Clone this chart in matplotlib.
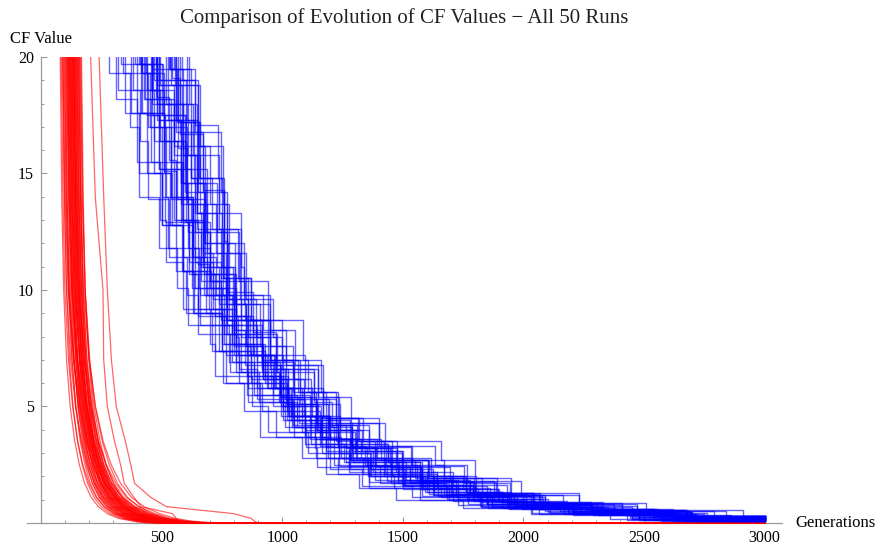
import matplotlib
matplotlib.use("Agg")
import matplotlib.pyplot as plt

TITLE = "Comparison of Evolution of CF Values \u2212 All 50 Runs"
X_LABEL = "Generations"
Y_LABEL = "CF Value"
X_MAJOR = [500, 1000, 1500, 2000, 2500, 3000]
Y_MAJOR = [5, 10, 15, 20]

# red runs: generation at which each CF level was reached
RED_LEVELS = [20, 14, 10, 7, 5, 3.5, 2.5, 1.7, 1.1, 0.7, 0.4, 0.2, 0.08, 0.02, 0, 0]
RED_GENS = [
    [80, 86, 94, 106, 121, 140, 159, 181, 208, 238, 275, 320, 380, 420, 500, 3000],
    [84, 91, 99, 114, 131, 152, 173, 199, 229, 263, 305, 356, 414, 464, 554, 3000],
    [88, 96, 106, 123, 143, 168, 193, 223, 258, 298, 348, 408, 478, 538, 638, 3000],
    [92, 98, 106, 118, 133, 152, 171, 193, 220, 250, 287, 332, 392, 432, 512, 3000],
    [95, 104, 116, 135, 158, 187, 216, 250, 291, 337, 394, 455, 525, 595, 695, 3000],
    [98, 105, 113, 128, 145, 166, 187, 213, 243, 277, 319, 370, 428, 478, 568, 3000],
    [100, 108, 118, 135, 155, 180, 205, 235, 270, 310, 360, 420, 490, 550, 650, 3000],
    [103, 109, 117, 129, 144, 163, 182, 204, 231, 261, 298, 343, 403, 443, 523, 3000],
    [105, 115, 128, 151, 177, 209, 242, 281, 326, 378, 443, 505, 575, 645, 755, 3000],
    [107, 114, 122, 137, 154, 175, 196, 222, 252, 286, 328, 379, 437, 487, 577, 3000],
    [109, 117, 127, 144, 164, 189, 214, 244, 279, 319, 369, 429, 499, 559, 659, 3000],
    [110, 119, 131, 150, 173, 202, 231, 265, 306, 352, 409, 470, 540, 610, 710, 3000],
    [112, 118, 126, 138, 153, 172, 191, 213, 240, 270, 307, 352, 412, 452, 532, 3000],
    [113, 121, 131, 148, 168, 193, 218, 248, 283, 323, 373, 433, 503, 563, 663, 3000],
    [115, 122, 130, 145, 162, 183, 204, 230, 260, 294, 336, 387, 445, 495, 585, 3000],
    [116, 126, 139, 162, 188, 220, 253, 292, 337, 389, 454, 516, 586, 656, 766, 3000],
    [118, 126, 136, 153, 173, 198, 223, 253, 288, 328, 378, 438, 508, 568, 668, 3000],
    [119, 125, 133, 145, 160, 179, 198, 220, 247, 277, 314, 359, 419, 459, 539, 3000],
    [121, 130, 142, 161, 184, 213, 242, 276, 317, 363, 420, 481, 551, 621, 721, 3000],
    [122, 129, 137, 152, 169, 190, 211, 237, 267, 301, 343, 394, 452, 502, 592, 3000],
    [124, 132, 142, 159, 179, 204, 229, 259, 294, 334, 384, 444, 514, 574, 674, 3000],
    [125, 131, 139, 151, 166, 185, 204, 226, 253, 283, 320, 365, 425, 465, 545, 3000],
    [127, 135, 145, 162, 182, 207, 232, 262, 297, 337, 387, 447, 517, 577, 677, 3000],
    [128, 137, 149, 168, 191, 220, 249, 283, 324, 370, 427, 488, 558, 628, 728, 3000],
    [130, 137, 145, 160, 177, 198, 219, 245, 275, 309, 351, 402, 460, 510, 600, 3000],
    [131, 139, 149, 166, 186, 211, 236, 266, 301, 341, 391, 451, 521, 581, 681, 3000],
    [133, 139, 147, 159, 174, 193, 212, 234, 261, 291, 328, 373, 433, 473, 553, 3000],
    [134, 144, 157, 180, 206, 238, 271, 310, 355, 407, 472, 534, 604, 674, 784, 3000],
    [136, 144, 154, 171, 191, 216, 241, 271, 306, 346, 396, 456, 526, 586, 686, 3000],
    [137, 144, 152, 167, 184, 205, 226, 252, 282, 316, 358, 409, 467, 517, 607, 3000],
    [139, 148, 160, 179, 202, 231, 260, 294, 335, 381, 438, 499, 569, 639, 739, 3000],
    [140, 148, 158, 175, 195, 220, 245, 275, 310, 350, 400, 460, 530, 590, 690, 3000],
    [142, 148, 156, 168, 183, 202, 221, 243, 270, 300, 337, 382, 442, 482, 562, 3000],
    [144, 151, 159, 174, 191, 212, 233, 259, 289, 323, 365, 416, 474, 524, 614, 3000],
    [145, 153, 163, 180, 200, 225, 250, 280, 315, 355, 405, 465, 535, 595, 695, 3000],
    [147, 156, 168, 187, 210, 239, 268, 302, 343, 389, 446, 507, 577, 647, 747, 3000],
    [149, 155, 163, 175, 190, 209, 228, 250, 277, 307, 344, 389, 449, 489, 569, 3000],
    [150, 158, 168, 185, 205, 230, 255, 285, 320, 360, 410, 470, 540, 600, 700, 3000],
    [152, 159, 167, 182, 199, 220, 241, 267, 297, 331, 373, 424, 482, 532, 622, 3000],
    [154, 164, 177, 200, 226, 258, 291, 330, 375, 427, 492, 554, 624, 694, 804, 3000],
    [156, 164, 174, 191, 211, 236, 261, 291, 326, 366, 416, 476, 546, 606, 706, 3000],
    [158, 164, 172, 184, 199, 218, 237, 259, 286, 316, 353, 398, 458, 498, 578, 3000],
    [160, 167, 175, 190, 207, 228, 249, 275, 305, 339, 381, 432, 490, 540, 630, 3000],
    [162, 171, 183, 202, 225, 254, 283, 317, 358, 404, 461, 522, 592, 662, 762, 3000],
    [165, 173, 183, 200, 220, 245, 270, 300, 335, 375, 425, 485, 555, 615, 715, 3000],
    [168, 175, 183, 198, 215, 236, 257, 283, 313, 347, 389, 440, 498, 548, 638, 3000],
    [206, 225, 257, 260, 275, 305, 330, 345, 385, 415, 545, 560, 575, 590, 620, 3000],
    [241, 260, 275, 292, 312, 350, 372, 388, 455, 520, 800, 870, 885, 895, 900, 3000],
    [90, 100, 113, 136, 162, 194, 227, 266, 311, 363, 428, 490, 560, 630, 740, 3000],
    [135, 142, 153, 171, 190, 214, 240, 268, 305, 344, 392, 455, 525, 585, 690, 3000],
]

# blue runs: generation of each improvement and the CF value after it
BLUE_GENS = [
    [0, 470, 560, 595, 680, 755, 800, 915, 990, 1140, 1230, 1345, 1560, 1780, 1930, 2300, 2560, 3000],
    [0, 425, 455, 550, 640, 650, 760, 885, 960, 1030, 1200, 1370, 1510, 1660, 1940, 2220, 2620, 3000],
    [0, 535, 590, 620, 710, 755, 870, 950, 1045, 1180, 1320, 1475, 1605, 1830, 2070, 2310, 2680, 3000],
    [0, 350, 440, 535, 560, 630, 740, 755, 910, 975, 1140, 1230, 1360, 1570, 1855, 2065, 2480, 3000],
    [0, 540, 650, 700, 725, 825, 860, 1000, 1150, 1225, 1310, 1475, 1695, 1885, 2030, 2410, 2700, 3000],
    [0, 420, 510, 605, 630, 700, 810, 895, 1050, 1115, 1280, 1440, 1570, 1780, 2065, 2275, 2690, 3000],
    [0, 480, 590, 640, 665, 765, 800, 870, 1020, 1095, 1180, 1275, 1495, 1685, 1830, 2210, 2500, 3000],
    [0, 390, 480, 515, 600, 675, 720, 865, 940, 1090, 1180, 1325, 1540, 1760, 1910, 2280, 2540, 3000],
    [0, 605, 635, 730, 820, 830, 940, 1095, 1170, 1240, 1410, 1610, 1750, 1900, 2180, 2460, 2860, 3000],
    [0, 455, 510, 540, 630, 675, 790, 810, 905, 1040, 1180, 1275, 1405, 1630, 1870, 2110, 2480, 3000],
    [0, 545, 575, 670, 760, 770, 880, 975, 1050, 1120, 1290, 1430, 1570, 1720, 2000, 2280, 2680, 3000],
    [0, 475, 530, 560, 650, 695, 810, 930, 1025, 1160, 1300, 1495, 1625, 1850, 2090, 2330, 2700, 3000],
    [0, 550, 640, 735, 760, 830, 940, 950, 1105, 1170, 1335, 1420, 1550, 1760, 2045, 2255, 2670, 3000],
    [0, 400, 510, 560, 585, 685, 720, 870, 1020, 1095, 1180, 1355, 1575, 1765, 1910, 2290, 2580, 3000],
    [0, 480, 570, 605, 690, 765, 810, 820, 895, 1045, 1135, 1145, 1360, 1580, 1730, 2100, 2360, 3000],
    [0, 340, 450, 500, 525, 625, 660, 810, 960, 1035, 1120, 1295, 1515, 1705, 1850, 2230, 2520, 3000],
    [0, 520, 610, 645, 730, 805, 850, 1015, 1090, 1240, 1330, 1495, 1710, 1930, 2080, 2450, 2710, 3000],
    [0, 475, 505, 600, 690, 700, 810, 880, 955, 1025, 1195, 1310, 1450, 1600, 1880, 2160, 2560, 3000],
    [0, 525, 580, 610, 700, 745, 860, 935, 1030, 1165, 1305, 1455, 1585, 1810, 2050, 2290, 2660, 3000],
    [0, 380, 470, 565, 590, 660, 770, 830, 985, 1050, 1215, 1350, 1480, 1690, 1975, 2185, 2600, 3000],
    [0, 585, 640, 670, 760, 805, 920, 1055, 1150, 1285, 1425, 1635, 1765, 1990, 2230, 2470, 2840, 3000],
    [0, 310, 400, 495, 520, 590, 700, 720, 875, 940, 1105, 1200, 1330, 1540, 1825, 2035, 2450, 3000],
    [0, 460, 570, 620, 645, 745, 780, 915, 1065, 1140, 1225, 1385, 1605, 1795, 1940, 2320, 2610, 3000],
    [0, 420, 510, 545, 630, 705, 750, 930, 1005, 1155, 1245, 1425, 1640, 1860, 2010, 2380, 2640, 3000],
    [0, 555, 585, 680, 770, 780, 890, 950, 1025, 1095, 1265, 1385, 1530, 1645, 1960, 2200, 2600, 3000],
    [0, 280, 370, 405, 490, 565, 610, 780, 855, 1005, 1095, 1265, 1480, 1700, 1850, 2220, 2480, 3000],
    [0, 615, 645, 740, 830, 840, 950, 1045, 1120, 1190, 1360, 1500, 1640, 1790, 2070, 2350, 2750, 3000],
    [0, 405, 460, 490, 580, 625, 740, 765, 860, 995, 1135, 1235, 1365, 1590, 1830, 2070, 2440, 3000],
    [0, 490, 580, 675, 700, 770, 880, 895, 1050, 1115, 1280, 1370, 1500, 1710, 1995, 2205, 2620, 3000],
    [0, 440, 550, 600, 625, 725, 760, 980, 1130, 1205, 1290, 1535, 1755, 1945, 2090, 2470, 2760, 3000],
    [0, 560, 650, 745, 770, 840, 950, 1015, 1170, 1235, 1400, 1540, 1670, 1880, 2165, 2375, 2790, 3000],
    [0, 430, 540, 590, 615, 715, 750, 855, 1005, 1080, 1165, 1280, 1500, 1720, 1870, 2210, 2540, 3000],
    [0, 530, 620, 655, 740, 815, 860, 1000, 1075, 1225, 1315, 1455, 1670, 1890, 2040, 2410, 2670, 3000],
    [0, 375, 405, 500, 590, 600, 710, 765, 840, 910, 1080, 1180, 1320, 1470, 1750, 2030, 2430, 3000],
    [0, 495, 550, 580, 670, 715, 830, 915, 1010, 1145, 1285, 1445, 1575, 1800, 2040, 2280, 2650, 3000],
    [0, 415, 445, 540, 630, 640, 750, 915, 990, 1060, 1230, 1440, 1580, 1730, 2010, 2290, 2690, 3000],
    [0, 575, 630, 660, 750, 795, 910, 920, 1015, 1150, 1290, 1375, 1505, 1730, 1970, 2210, 2580, 3000],
    [0, 410, 500, 595, 620, 690, 800, 815, 970, 1035, 1200, 1290, 1420, 1630, 1915, 2125, 2540, 3000],
    [0, 480, 590, 640, 665, 765, 800, 975, 1125, 1200, 1285, 1485, 1705, 1895, 2040, 2420, 2710, 3000],
    [0, 320, 410, 445, 530, 605, 650, 785, 860, 1010, 1100, 1235, 1450, 1670, 1820, 2190, 2450, 3000],
    [0, 490, 600, 650, 675, 775, 810, 845, 995, 1070, 1155, 1215, 1435, 1625, 1770, 2150, 2440, 3000],
    [0, 460, 550, 585, 670, 745, 790, 920, 995, 1145, 1235, 1365, 1580, 1800, 1950, 2320, 2580, 3000],
    [0, 535, 565, 660, 750, 760, 870, 1085, 1160, 1230, 1400, 1660, 1800, 1950, 2230, 2510, 2910, 3000],
    [0, 415, 470, 500, 590, 635, 750, 820, 915, 1050, 1190, 1335, 1465, 1690, 1930, 2170, 2540, 3000],
    [0, 570, 660, 755, 780, 850, 960, 975, 1130, 1195, 1360, 1450, 1580, 1790, 2075, 2285, 2700, 3000],
    [0, 435, 490, 520, 610, 655, 770, 790, 885, 1020, 1160, 1255, 1385, 1610, 1850, 2090, 2460, 3000],
    [0, 460, 550, 645, 670, 740, 850, 920, 1075, 1140, 1305, 1470, 1600, 1775, 2100, 2300, 2720, 3000],
    [0, 330, 440, 490, 515, 615, 650, 855, 1005, 1080, 1165, 1395, 1615, 1805, 1950, 2330, 2620, 3000],
    [0, 560, 650, 685, 770, 845, 890, 965, 1040, 1190, 1280, 1355, 1570, 1790, 1940, 2310, 2570, 3000],
    [0, 465, 495, 590, 680, 690, 800, 915, 990, 1060, 1230, 1390, 1530, 1680, 1960, 2240, 2640, 3000],
]
BLUE_CF = [
    [40, 19.0, 16.8, 14.2, 12.0, 9.8, 8.3, 6.8, 5.4, 4.3, 3.3, 2.5, 1.8, 1.2, 0.8, 0.5, 0.22, 0.22],
    [40, 18.2, 15.5, 13.0, 11.2, 9.2, 7.7, 6.3, 5.0, 3.9, 3.0, 2.3, 1.6, 1.1, 0.7, 0.42, 0.15, 0.15],
    [40, 19.5, 17.2, 14.8, 12.6, 10.5, 8.7, 7.0, 5.6, 4.5, 3.5, 2.7, 1.95, 1.3, 0.85, 0.55, 0.28, 0.28],
    [40, 17.6, 15.0, 12.8, 10.8, 9.0, 7.4, 6.0, 4.8, 3.7, 2.8, 2.1, 1.5, 1.0, 0.65, 0.38, 0.12, 0.12],
    [40, 18.8, 16.2, 13.7, 11.6, 9.6, 8.0, 6.6, 5.3, 4.2, 3.2, 2.4, 1.75, 1.15, 0.75, 0.46, 0.2, 0.2],
    [40, 19.3, 17.0, 14.0, 11.8, 10.1, 8.5, 6.9, 5.5, 4.4, 3.4, 2.6, 1.85, 1.25, 0.82, 0.52, 0.24, 0.24],
    [40, 18.0, 15.8, 13.3, 11.0, 9.4, 7.6, 6.2, 5.1, 4.0, 3.1, 2.2, 1.65, 1.05, 0.68, 0.4, 0.14, 0.14],
    [40, 19.7, 17.5, 15.2, 12.9, 10.7, 8.9, 7.2, 5.8, 4.6, 3.6, 2.8, 2.0, 1.35, 0.9, 0.58, 0.3, 0.3],
    [40, 17.3, 14.6, 12.5, 10.4, 8.7, 7.2, 5.8, 4.6, 3.6, 2.7, 2.0, 1.45, 0.95, 0.6, 0.35, 0.1, 0.1],
    [40, 18.6, 16.4, 13.9, 11.4, 9.8, 8.1, 6.5, 5.2, 4.1, 3.25, 2.45, 1.7, 1.2, 0.72, 0.44, 0.18, 0.18],
    [40, 19.1, 16.7, 14.3, 12.1, 9.9, 8.2, 6.8, 5.4, 4.3, 3.3, 2.5, 1.8, 1.2, 0.8, 0.5, 0.21, 0.21],
    [40, 18.3, 15.6, 13.0, 11.1, 9.2, 7.7, 6.3, 5.0, 3.9, 3.0, 2.3, 1.6, 1.1, 0.7, 0.42, 0.16, 0.16],
    [40, 19.5, 17.1, 14.8, 12.6, 10.4, 8.7, 7.0, 5.6, 4.5, 3.5, 2.7, 1.95, 1.3, 0.85, 0.55, 0.27, 0.27],
    [40, 17.6, 15.1, 12.8, 10.8, 9.0, 7.4, 6.0, 4.8, 3.7, 2.8, 2.1, 1.5, 1.0, 0.65, 0.38, 0.12, 0.12],
    [40, 18.8, 16.1, 13.7, 11.6, 9.6, 8.0, 6.6, 5.3, 4.2, 3.2, 2.4, 1.75, 1.15, 0.75, 0.46, 0.19, 0.19],
    [40, 19.3, 17.0, 14.0, 11.8, 10.1, 8.5, 6.9, 5.5, 4.4, 3.4, 2.6, 1.85, 1.25, 0.82, 0.52, 0.24, 0.24],
    [40, 18.0, 15.8, 13.3, 11.0, 9.4, 7.6, 6.2, 5.1, 4.0, 3.1, 2.2, 1.65, 1.05, 0.68, 0.4, 0.14, 0.14],
    [40, 19.7, 17.5, 15.2, 12.9, 10.7, 8.9, 7.2, 5.8, 4.6, 3.6, 2.8, 2.0, 1.35, 0.9, 0.58, 0.3, 0.3],
    [40, 17.3, 14.6, 12.5, 10.4, 8.7, 7.2, 5.8, 4.6, 3.6, 2.7, 2.0, 1.45, 0.95, 0.6, 0.35, 0.1, 0.1],
    [40, 18.6, 16.4, 13.9, 11.4, 9.8, 8.1, 6.5, 5.2, 4.1, 3.25, 2.45, 1.7, 1.2, 0.72, 0.44, 0.18, 0.18],
    [40, 19.0, 16.8, 14.2, 12.0, 9.8, 8.3, 6.8, 5.4, 4.3, 3.3, 2.5, 1.8, 1.2, 0.8, 0.5, 0.22, 0.22],
    [40, 18.2, 15.5, 13.0, 11.2, 9.2, 7.7, 6.3, 5.0, 3.9, 3.0, 2.3, 1.6, 1.1, 0.7, 0.42, 0.15, 0.15],
    [40, 19.5, 17.2, 14.8, 12.6, 10.5, 8.7, 7.0, 5.6, 4.5, 3.5, 2.7, 1.95, 1.3, 0.85, 0.55, 0.28, 0.28],
    [40, 17.6, 15.0, 12.8, 10.8, 9.0, 7.4, 6.0, 4.8, 3.7, 2.8, 2.1, 1.5, 1.0, 0.65, 0.38, 0.12, 0.12],
    [40, 18.8, 16.2, 13.7, 11.6, 9.6, 8.0, 6.6, 5.3, 4.2, 3.2, 2.4, 1.75, 1.15, 0.75, 0.46, 0.2, 0.2],
    [40, 19.3, 17.0, 14.0, 11.8, 10.1, 8.5, 6.9, 5.5, 4.4, 3.4, 2.6, 1.85, 1.25, 0.82, 0.52, 0.24, 0.24],
    [40, 18.0, 15.8, 13.3, 11.0, 9.4, 7.6, 6.2, 5.1, 4.0, 3.1, 2.2, 1.65, 1.05, 0.68, 0.4, 0.14, 0.14],
    [40, 19.7, 17.5, 15.2, 12.9, 10.7, 8.9, 7.2, 5.8, 4.6, 3.6, 2.8, 2.0, 1.35, 0.9, 0.58, 0.3, 0.3],
    [40, 17.3, 14.6, 12.5, 10.4, 8.7, 7.2, 5.8, 4.6, 3.6, 2.7, 2.0, 1.45, 0.95, 0.6, 0.35, 0.1, 0.1],
    [40, 18.6, 16.4, 13.9, 11.4, 9.8, 8.1, 6.5, 5.2, 4.1, 3.25, 2.45, 1.7, 1.2, 0.72, 0.44, 0.18, 0.18],
    [40, 19.0, 16.8, 14.2, 12.0, 9.8, 8.3, 6.8, 5.4, 4.3, 3.3, 2.5, 1.8, 1.2, 0.8, 0.5, 0.22, 0.22],
    [40, 18.2, 15.5, 13.0, 11.2, 9.2, 7.7, 6.3, 5.0, 3.9, 3.0, 2.3, 1.6, 1.1, 0.7, 0.42, 0.15, 0.15],
    [40, 19.5, 17.2, 14.8, 12.6, 10.5, 8.7, 7.0, 5.6, 4.5, 3.5, 2.7, 1.95, 1.3, 0.85, 0.55, 0.28, 0.28],
    [40, 17.6, 15.0, 12.8, 10.8, 9.0, 7.4, 6.0, 4.8, 3.7, 2.8, 2.1, 1.5, 1.0, 0.65, 0.38, 0.12, 0.12],
    [40, 18.8, 16.2, 13.7, 11.6, 9.6, 8.0, 6.6, 5.3, 4.2, 3.2, 2.4, 1.75, 1.15, 0.75, 0.46, 0.2, 0.2],
    [40, 19.3, 17.0, 14.0, 11.8, 10.1, 8.5, 6.9, 5.5, 4.4, 3.4, 2.6, 1.85, 1.25, 0.82, 0.52, 0.24, 0.24],
    [40, 18.0, 15.8, 13.3, 11.0, 9.4, 7.6, 6.2, 5.1, 4.0, 3.1, 2.2, 1.65, 1.05, 0.68, 0.4, 0.14, 0.14],
    [40, 19.7, 17.5, 15.2, 12.9, 10.7, 8.9, 7.2, 5.8, 4.6, 3.6, 2.8, 2.0, 1.35, 0.9, 0.58, 0.3, 0.3],
    [40, 17.3, 14.6, 12.5, 10.4, 8.7, 7.2, 5.8, 4.6, 3.6, 2.7, 2.0, 1.45, 0.95, 0.6, 0.35, 0.1, 0.1],
    [40, 18.6, 16.4, 13.9, 11.4, 9.8, 8.1, 6.5, 5.2, 4.1, 3.25, 2.45, 1.7, 1.2, 0.72, 0.44, 0.18, 0.18],
    [40, 19.0, 16.8, 14.2, 12.0, 9.8, 8.3, 6.8, 5.4, 4.3, 3.3, 2.5, 1.8, 1.2, 0.8, 0.5, 0.22, 0.22],
    [40, 18.2, 15.5, 13.0, 11.2, 9.2, 7.7, 6.3, 5.0, 3.9, 3.0, 2.3, 1.6, 1.1, 0.7, 0.42, 0.15, 0.15],
    [40, 19.5, 17.2, 14.8, 12.6, 10.5, 8.7, 7.0, 5.6, 4.5, 3.5, 2.7, 1.95, 1.3, 0.85, 0.55, 0.28, 0.28],
    [40, 17.6, 15.0, 12.8, 10.8, 9.0, 7.4, 6.0, 4.8, 3.7, 2.8, 2.1, 1.5, 1.0, 0.65, 0.38, 0.12, 0.12],
    [40, 18.8, 16.2, 13.7, 11.6, 9.6, 8.0, 6.6, 5.3, 4.2, 3.2, 2.4, 1.75, 1.15, 0.75, 0.46, 0.2, 0.2],
    [40, 19.3, 17.0, 14.0, 11.8, 10.1, 8.5, 6.9, 5.5, 4.4, 3.4, 2.6, 1.85, 1.25, 0.82, 0.52, 0.24, 0.24],
    [40, 18.0, 15.8, 13.3, 11.0, 9.4, 7.6, 6.2, 5.1, 4.0, 3.1, 2.2, 1.65, 1.05, 0.68, 0.4, 0.14, 0.14],
    [40, 19.7, 17.5, 15.2, 12.9, 10.7, 8.9, 7.2, 5.8, 4.6, 3.6, 2.8, 2.0, 1.35, 0.9, 0.58, 0.3, 0.3],
    [40, 17.3, 14.6, 12.5, 10.4, 8.7, 7.2, 5.8, 4.6, 3.6, 2.7, 2.0, 1.45, 0.95, 0.6, 0.35, 0.1, 0.1],
    [40, 18.6, 16.4, 13.9, 11.4, 9.8, 8.1, 6.5, 5.2, 4.1, 3.25, 2.45, 1.7, 1.2, 0.72, 0.44, 0.18, 0.18],
]

plt.rcParams["font.family"] = ["Liberation Serif", "DejaVu Serif"]
AXIS_GRAY = "#9a9a9a"

fig = plt.figure(figsize=(8.84, 5.47), dpi=100)
# axes box in figure fractions (pixel layout of the original chart)
ax = fig.add_axes([27 / 884, 21.7 / 547, 755 / 884, 468.3 / 547])

for gens in RED_GENS:
    ax.plot(gens, RED_LEVELS, color="#ff0000", lw=0.9, alpha=0.6, zorder=3)
for gens, cf in zip(BLUE_GENS, BLUE_CF):
    ax.plot(gens, cf, drawstyle="steps-post", color="#0000ff", lw=1.0,
            alpha=0.6, zorder=3)

ax.set_xlim(-58, 3072)
ax.set_ylim(-0.1, 20)

# Mathematica-style axes crossing at the origin
for side in ("top", "right"):
    ax.spines[side].set_visible(False)
ax.spines["left"].set_position(("data", 0))
ax.spines["left"].set_bounds(0, 20)
ax.spines["bottom"].set_position(("data", 0))
for side in ("left", "bottom"):
    ax.spines[side].set_color(AXIS_GRAY)
    ax.spines[side].set_linewidth(0.9)

ax.set_xticks(X_MAJOR)
ax.set_xticks(range(100, 3001, 100), minor=True)
ax.set_yticks(Y_MAJOR)
ax.set_yticks(range(1, 21), minor=True)
ax.tick_params(which="both", direction="in", color=AXIS_GRAY, labelsize=11.5)
ax.tick_params(which="major", length=4.5, width=0.8, pad=5)
ax.tick_params(which="minor", length=2.5, width=0.7)

ax.annotate(Y_LABEL, xy=(0, 1), xycoords=("data", "axes fraction"),
            xytext=(0, 14), textcoords="offset pixels",
            ha="center", va="baseline", fontsize=12)
ax.annotate(X_LABEL, xy=(1, 0), xycoords=("axes fraction", "data"),
            xytext=(13, 0), textcoords="offset pixels",
            ha="left", va="center", fontsize=12)
fig.text(404 / 884, 1 - 23 / 547, TITLE, ha="center", va="baseline",
         fontsize=15, color="#222222")

fig.savefig("out.png", dpi=100)
